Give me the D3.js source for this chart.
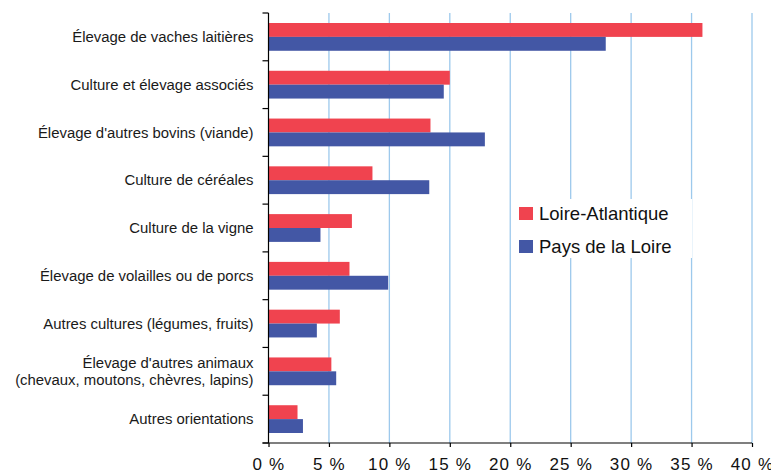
<!DOCTYPE html>
<html>
<head>
<meta charset="utf-8">
<script src="https://cdn.jsdelivr.net/npm/d3@7"></script>
<style>
  body { margin: 0; background: #fff; }
  svg { display: block; font-family: "Liberation Sans", Arial, sans-serif; }
</style>
</head>
<body>
<svg id="chart"></svg>
<script>
var categories = [
  "Élevage de vaches laitières",
  "Culture et élevage associés",
  "Élevage d'autres bovins (viande)",
  "Culture de céréales",
  "Culture de la vigne",
  "Élevage de volailles ou de porcs",
  "Autres cultures (légumes, fruits)",
  "Élevage d'autres animaux\n(chevaux, moutons, chèvres, lapins)",
  "Autres orientations"
];
var seriesNames = ["Loire-Atlantique", "Pays de la Loire"];
var loireAtlantique = [35.9, 15.0, 13.4, 8.6, 6.9, 6.7, 5.9, 5.2, 2.4];
var paysDeLaLoire   = [27.9, 14.5, 17.9, 13.3, 4.3, 9.9, 4.0, 5.6, 2.85];
var xTicks = [0, 5, 10, 15, 20, 25, 30, 35, 40];
var colors = ["#f0434f", "#4357a5"];

var width = 771, height = 474;
var margin = {top: 13, right: 19, bottom: 31, left: 268.5};
var innerW = width - margin.left - margin.right;
var innerH = height - margin.top - margin.bottom;

var svg = d3.select("#chart")
  .attr("width", width)
  .attr("height", height);

var g = svg.append("g")
  .attr("transform", "translate(" + margin.left + "," + margin.top + ")");

var x = d3.scaleLinear().domain([0, 40]).range([0, innerW]);
var y = d3.scaleBand().domain(categories).range([0, innerH]).padding(0);
var pad = 10;
var y1 = d3.scaleBand().domain(seriesNames)
  .range([pad, y.bandwidth() - pad]).padding(0);

// gridlines
g.append("g")
  .selectAll("line")
  .data(xTicks.slice(1))
  .enter().append("line")
  .attr("x1", function(d) { return x(d); })
  .attr("x2", function(d) { return x(d); })
  .attr("y1", 0)
  .attr("y2", innerH)
  .attr("stroke", "#9dc9ec")
  .attr("stroke-width", 1.3);

// bars
var rows = categories.map(function(c, i) {
  return [
    {cat: c, name: seriesNames[0], v: loireAtlantique[i]},
    {cat: c, name: seriesNames[1], v: paysDeLaLoire[i]}
  ];
});

g.append("g")
  .selectAll("g")
  .data(rows)
  .enter().append("g")
  .attr("transform", function(d) { return "translate(0," + y(d[0].cat) + ")"; })
  .selectAll("rect")
  .data(function(d) { return d; })
  .enter().append("rect")
  .attr("x", x(0))
  .attr("y", function(d) { return y1(d.name); })
  .attr("width", function(d) { return x(d.v) - x(0); })
  .attr("height", y1.bandwidth())
  .attr("fill", function(d, i) { return colors[i]; });

// left axis (ticks at band boundaries)
var bounds = categories.map(function(c) { return y(c); }).concat([innerH]);
var yAxis = g.append("g");
yAxis.append("line")
  .attr("x1", 0).attr("x2", 0)
  .attr("y1", 0).attr("y2", innerH)
  .attr("stroke", "#000").attr("stroke-width", 1.2);
yAxis.selectAll("line.tick")
  .data(bounds)
  .enter().append("line")
  .attr("class", "tick")
  .attr("x1", -6).attr("x2", 0)
  .attr("y1", function(d) { return d; })
  .attr("y2", function(d) { return d; })
  .attr("stroke", "#000").attr("stroke-width", 1.2);

// category labels
var labels = g.append("g").selectAll("text")
  .data(categories)
  .enter().append("text")
  .attr("x", -15)
  .attr("y", function(d) { return y(d) + y.bandwidth() / 2; })
  .attr("text-anchor", "end")
  .attr("font-size", "14.9px")
  .attr("fill", "#1a1a1a");

labels.each(function(d) {
  var lines = d.split("\n");
  var t = d3.select(this);
  lines.forEach(function(l, i) {
    t.append("tspan")
      .attr("x", -15)
      .attr("dy", i === 0 ? (0.35 - (lines.length - 1) * 0.6) + "em" : "1.2em")
      .text(l);
  });
});

// bottom axis
var xAxis = g.append("g")
  .attr("transform", "translate(0," + innerH + ")")
  .call(d3.axisBottom(x).tickValues(xTicks).tickSize(4).tickPadding(11)
    .tickFormat(function(d) { return d + " %"; }));
xAxis.select(".domain").attr("stroke", "#000").attr("stroke-width", 1.2)
  .attr("d", "M-6,0H" + innerW);
xAxis.selectAll(".tick line").attr("stroke", "#000").attr("stroke-width", 1.2);
xAxis.selectAll(".tick text")
  .attr("font-size", "17px")
  .attr("font-family", "'Liberation Sans', Arial, sans-serif")
  .attr("letter-spacing", "1.2px")
  .attr("fill", "#111");

// legend
var legend = svg.append("g").attr("transform", "translate(511,199)");
legend.append("rect")
  .attr("width", 181).attr("height", 59)
  .attr("fill", "#fff");
seriesNames.forEach(function(s, i) {
  var row = legend.append("g").attr("transform", "translate(8," + (8 + i * 33) + ")");
  row.append("rect")
    .attr("width", 14).attr("height", 13)
    .attr("fill", colors[i]);
  row.append("text")
    .attr("x", 20).attr("y", 12.5)
    .attr("font-size", "18.5px")
    .attr("fill", "#111")
    .text(s);
});
</script>
</body>
</html>
